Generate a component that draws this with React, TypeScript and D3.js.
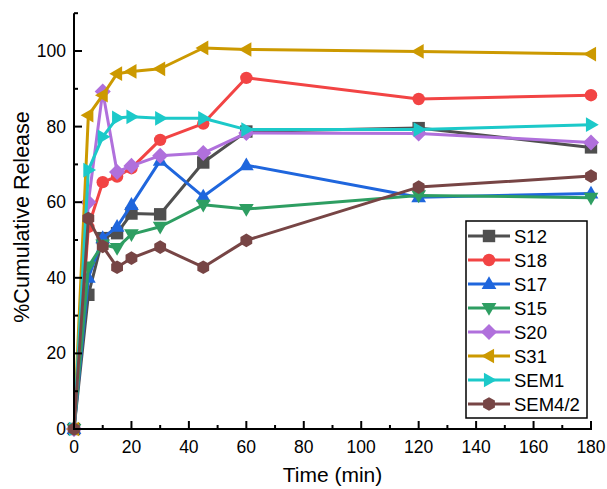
import React from "react";
import * as d3 from "d3";

const time = [0, 5, 10, 15, 20, 30, 45, 60, 120, 180];
const S12 = [0, 35.5, 50.5, 51.8, 57, 56.8, 70.5, 78.7, 79.6, 74.5];
const S18 = [0, 53.5, 65.3, 66.8, 69, 76.5, 80.8, 92.9, 87.3, 88.3];
const S17 = [0, 40, 50.5, 53.5, 59.3, 71, 61.5, 69.8, 61.3, 62.3];
const S15 = [0, 43, 48.8, 47.9, 51.5, 53.5, 59.3, 58.2, 61.8, 61.2];
const S20 = [0, 60, 89.3, 68, 69.6, 72.3, 73, 78.3, 78.2, 75.8];
const S31 = [0, 83, 88.3, 94, 94.6, 95.3, 100.8, 100.4, 99.9, 99.2];
const SEM1 = [0, 68.5, 77.3, 82.3, 82.6, 82.2, 82.2, 79.2, 79.2, 80.5];
const SEM4_2 = [0, 55.7, 48.3, 42.8, 45.2, 48.1, 42.8, 49.9, 64, 66.9];

const seriesNames = ["S12", "S18", "S17", "S15", "S20", "S31", "SEM1", "SEM4/2"];
const seriesValues = [S12, S18, S17, S15, S20, S31, SEM1, SEM4_2];
const seriesColors = ["#4f4f4f", "#f24444", "#1f66dd", "#2e9e62", "#b070dc", "#cc9900", "#1cc9c9", "#774545"];
const seriesShapes = ["square", "circle", "up", "down", "diamond", "left", "right", "hexagon"];

const xTicks = [0, 20, 40, 60, 80, 100, 120, 140, 160, 180];
const xMinor = [10, 30, 50, 70, 90, 110, 130, 150, 170];
const yTicks = [0, 20, 40, 60, 80, 100];
const yMinor = [10, 30, 50, 70, 90, 110];

const FONT = "'Liberation Sans', Arial, sans-serif";

function shapePath(shape: string, s: number): string {
  switch (shape) {
    case "square":
      return `M${-s},${-s}H${s}V${s}H${-s}Z`;
    case "circle":
      return `M${s},0A${s},${s} 0 1,1 ${-s},0A${s},${s} 0 1,1 ${s},0Z`;
    case "up": {
      const r = s * 1.25;
      return `M0,${-r}L${r * 0.95},${r * 0.65}L${-r * 0.95},${r * 0.65}Z`;
    }
    case "down": {
      const r = s * 1.25;
      return `M0,${r}L${r * 0.95},${-r * 0.65}L${-r * 0.95},${-r * 0.65}Z`;
    }
    case "left": {
      const r = s * 1.25;
      return `M${-r},0L${r * 0.65},${-r * 0.95}L${r * 0.65},${r * 0.95}Z`;
    }
    case "right": {
      const r = s * 1.25;
      return `M${r},0L${-r * 0.65},${-r * 0.95}L${-r * 0.65},${r * 0.95}Z`;
    }
    case "diamond": {
      const r = s * 1.3;
      return `M0,${-r}L${r},0L0,${r}L${-r},0Z`;
    }
    case "hexagon": {
      const r = s * 1.1;
      const pts = d3.range(6).map((i) => {
        const a = (Math.PI / 3) * i + Math.PI / 6;
        return [r * Math.cos(a), r * Math.sin(a)];
      });
      return "M" + pts.map((p) => p.join(",")).join("L") + "Z";
    }
  }
  return "";
}

export default function App() {
  const W = 607, H = 489;
  const x = d3.scaleLinear().domain([0, 180]).range([74, 591]);
  const y = d3.scaleLinear().domain([0, 110]).range([429, 13.2]);
  const line = d3
    .line<number>()
    .x((_, i) => x(time[i]))
    .y((v) => y(v));

  const legX = 466, legY = 221, legW = 121, legH = 197;
  const legRow0 = 236, legStep = 24;
  const MS = 6.2;

  return (
    <svg width={W} height={H} style={{ position: "absolute", left: 0, top: 0, background: "#fff" }} fontFamily={FONT}>
      <rect x={0} y={0} width={W} height={H} fill="#fff" />
      {seriesValues.map((vals, si) => (
        <g key={si}>
          <path d={line(vals) || ""} fill="none" stroke={seriesColors[si]} strokeWidth={3} strokeLinejoin="round" />
          {vals.map((v, i) => (
            <path
              key={i}
              d={shapePath(seriesShapes[si], MS)}
              transform={`translate(${x(time[i])},${y(v)})`}
              fill={seriesColors[si]}
            />
          ))}
        </g>
      ))}
      <g stroke="#000" strokeWidth={2}>
        <line x1={x(0)} x2={x(180) + 1} y1={y(0)} y2={y(0)} />
        <line x1={x(0)} x2={x(0)} y1={y(0) + 1} y2={y(110)} />
        {xTicks.map((t) => (
          <line key={"xt" + t} x1={x(t)} x2={x(t)} y1={y(0)} y2={y(0) - 8} />
        ))}
        {xMinor.map((t) => (
          <line key={"xm" + t} x1={x(t)} x2={x(t)} y1={y(0)} y2={y(0) - 4} />
        ))}
        {yTicks.map((t) => (
          <line key={"yt" + t} x1={x(0)} x2={x(0) + 8} y1={y(t)} y2={y(t)} />
        ))}
        {yMinor.map((t) => (
          <line key={"ym" + t} x1={x(0)} x2={x(0) + 4} y1={y(t)} y2={y(t)} />
        ))}
      </g>
      {xTicks.map((t) => (
        <text key={"xl" + t} x={x(t)} y={452.5} textAnchor="middle" fontSize={17.5} fill="#000">
          {t}
        </text>
      ))}
      {yTicks.map((t) => (
        <text key={"yl" + t} x={66} y={y(t) + 6} textAnchor="end" fontSize={17.5} fill="#000">
          {t}
        </text>
      ))}
      <text x={332.5} y={482} textAnchor="middle" fontSize={21} fill="#000">
        Time (min)
      </text>
      <text transform="translate(29,217) rotate(-90)" textAnchor="middle" fontSize={21.5} fill="#000">
        %Cumulative Release
      </text>
      <rect x={legX} y={legY} width={legW} height={legH} fill="#fff" stroke="#000" strokeWidth={1.5} />
      {seriesNames.map((name, si) => {
        const cy = legRow0 + si * legStep;
        return (
          <g key={name}>
            <line x1={legX + 2} x2={legX + 44} y1={cy} y2={cy} stroke={seriesColors[si]} strokeWidth={3} />
            <path d={shapePath(seriesShapes[si], MS)} transform={`translate(${legX + 23},${cy})`} fill={seriesColors[si]} />
            <text x={legX + 48} y={cy + 6.5} fontSize={18.5} fill="#000">
              {name}
            </text>
          </g>
        );
      })}
    </svg>
  );
}
